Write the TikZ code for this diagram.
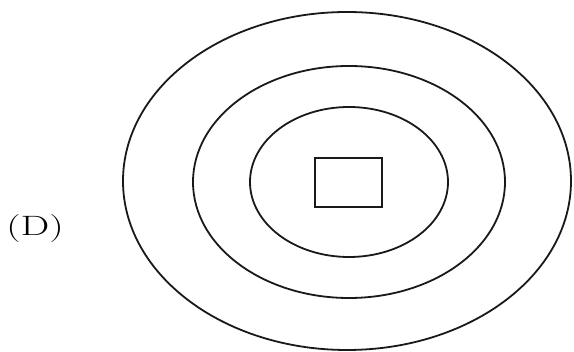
\documentclass[tikz,border=0pt]{standalone}
\begin{document}
\begin{tikzpicture}[x=1pt,y=-1pt,
  ring/.style={draw=black!90,line width=1.8pt},
  sq/.style={draw=black!90,line width=2.4pt}]
\useasboundingbox (0,0) rectangle (574,352);
\draw[ring] (347,181) ellipse [x radius=224, y radius=169];
\draw[ring] (349,182) ellipse [x radius=156, y radius=116];
\draw[ring] (349,182) ellipse [x radius=99, y radius=75];
\node[sq,minimum width=67pt,minimum height=49pt,inner sep=0pt] (box) at (348.5,182.5) {};
\node[inner sep=0pt,xscale=1.45] (lab) at (35,229) {\fontsize{28}{30}\selectfont (D)};
\end{tikzpicture}
\end{document}
